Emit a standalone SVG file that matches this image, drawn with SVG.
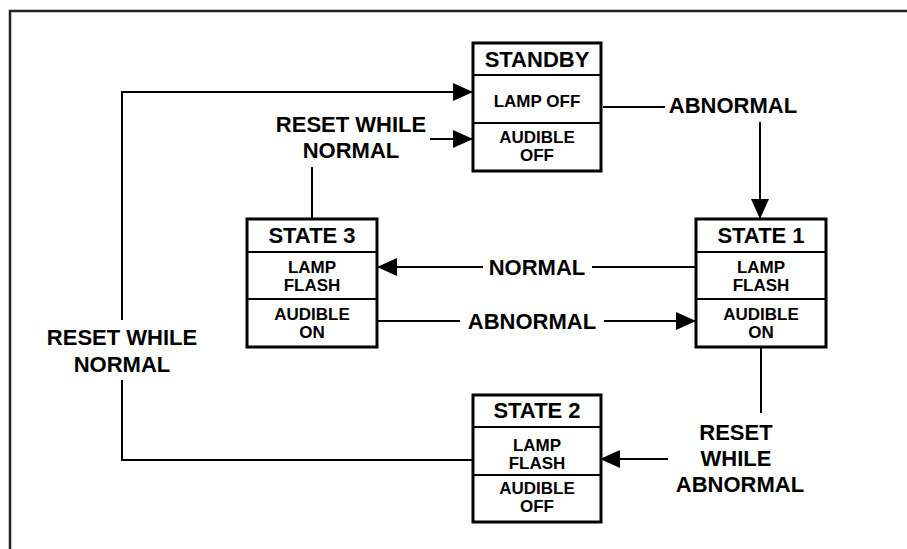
<svg xmlns="http://www.w3.org/2000/svg" width="907" height="549" viewBox="0 0 907 549">
<style>
.box{fill:#fff;stroke:#000;stroke-width:3}
.div{stroke:#000;stroke-width:2}
.ln{fill:none;stroke:#000;stroke-width:2}
text{font-family:"Liberation Sans",Arial,sans-serif;font-weight:bold;fill:#000;text-anchor:middle}
.h{font-size:22px}
.s{font-size:17px}
.l{font-size:22px}
</style>
<defs>
<marker id="arr" markerUnits="userSpaceOnUse" markerWidth="20" markerHeight="18" refX="20" refY="9" orient="auto">
<path d="M0,0 L20,9 L0,18 z" fill="#000"/>
</marker>
</defs>
<rect width="907" height="549" fill="#fff"/>
<path d="M10,549 V11 H907" fill="none" stroke="#222" stroke-width="2.5"/>
<g id="connectors">
<path class="ln" d="M603,107 H665"/>
<text class="l" x="733" y="113">ABNORMAL</text>
<path class="ln" d="M760,122 V219" marker-end="url(#arr)"/>
<path class="ln" d="M696,267 H592"/>
<text class="l" x="537" y="275">NORMAL</text>
<path class="ln" d="M483,267 H377" marker-end="url(#arr)"/>
<path class="ln" d="M377,321 H460"/>
<text class="l" x="532" y="329">ABNORMAL</text>
<path class="ln" d="M604,321 H696" marker-end="url(#arr)"/>
<path class="ln" d="M761,347 V413"/>
<text class="l" x="736" y="440">RESET</text>
<text class="l" x="736" y="466">WHILE</text>
<text class="l" x="740" y="492">ABNORMAL</text>
<path class="ln" d="M668,459 H600" marker-end="url(#arr)"/>
<path class="ln" d="M312,219 V167"/>
<text class="l" x="351" y="132">RESET WHILE</text>
<text class="l" x="351" y="158">NORMAL</text>
<path class="ln" d="M430,139 H473" marker-end="url(#arr)"/>
<path class="ln" d="M473,460 H122 V380"/>
<text class="l" x="122" y="345">RESET WHILE</text>
<text class="l" x="122" y="372">NORMAL</text>
<path class="ln" d="M122,320 V92 H473" marker-end="url(#arr)"/>
</g>
<g id="standby">
<rect class="box" x="473" y="43" width="128" height="128"/>
<line class="div" x1="473" y1="75" x2="601" y2="75"/>
<line class="div" x1="473" y1="123" x2="601" y2="123"/>
<text class="h" x="537" y="67">STANDBY</text>
<text class="s" x="537" y="107">LAMP OFF</text>
<text class="s" x="537" y="143">AUDIBLE</text>
<text class="s" x="537" y="161">OFF</text>
</g>
<g id="state3">
<rect class="box" x="247" y="219" width="130" height="128"/>
<line class="div" x1="247" y1="252" x2="377" y2="252"/>
<line class="div" x1="247" y1="299" x2="377" y2="299"/>
<text class="h" x="312" y="243">STATE 3</text>
<text class="s" x="312" y="273">LAMP</text>
<text class="s" x="312" y="291">FLASH</text>
<text class="s" x="312" y="320">AUDIBLE</text>
<text class="s" x="312" y="338">ON</text>
</g>
<g id="state1">
<rect class="box" x="696" y="219" width="130" height="128"/>
<line class="div" x1="696" y1="252" x2="826" y2="252"/>
<line class="div" x1="696" y1="299" x2="826" y2="299"/>
<text class="h" x="761" y="243">STATE 1</text>
<text class="s" x="761" y="273">LAMP</text>
<text class="s" x="761" y="291">FLASH</text>
<text class="s" x="761" y="320">AUDIBLE</text>
<text class="s" x="761" y="338">ON</text>
</g>
<g id="state2">
<rect class="box" x="473" y="395" width="128" height="127"/>
<line class="div" x1="473" y1="427" x2="601" y2="427"/>
<line class="div" x1="473" y1="475" x2="601" y2="475"/>
<text class="h" x="537" y="418">STATE 2</text>
<text class="s" x="537" y="451">LAMP</text>
<text class="s" x="537" y="469">FLASH</text>
<text class="s" x="537" y="494">AUDIBLE</text>
<text class="s" x="537" y="512">OFF</text>
</g>
</svg>
